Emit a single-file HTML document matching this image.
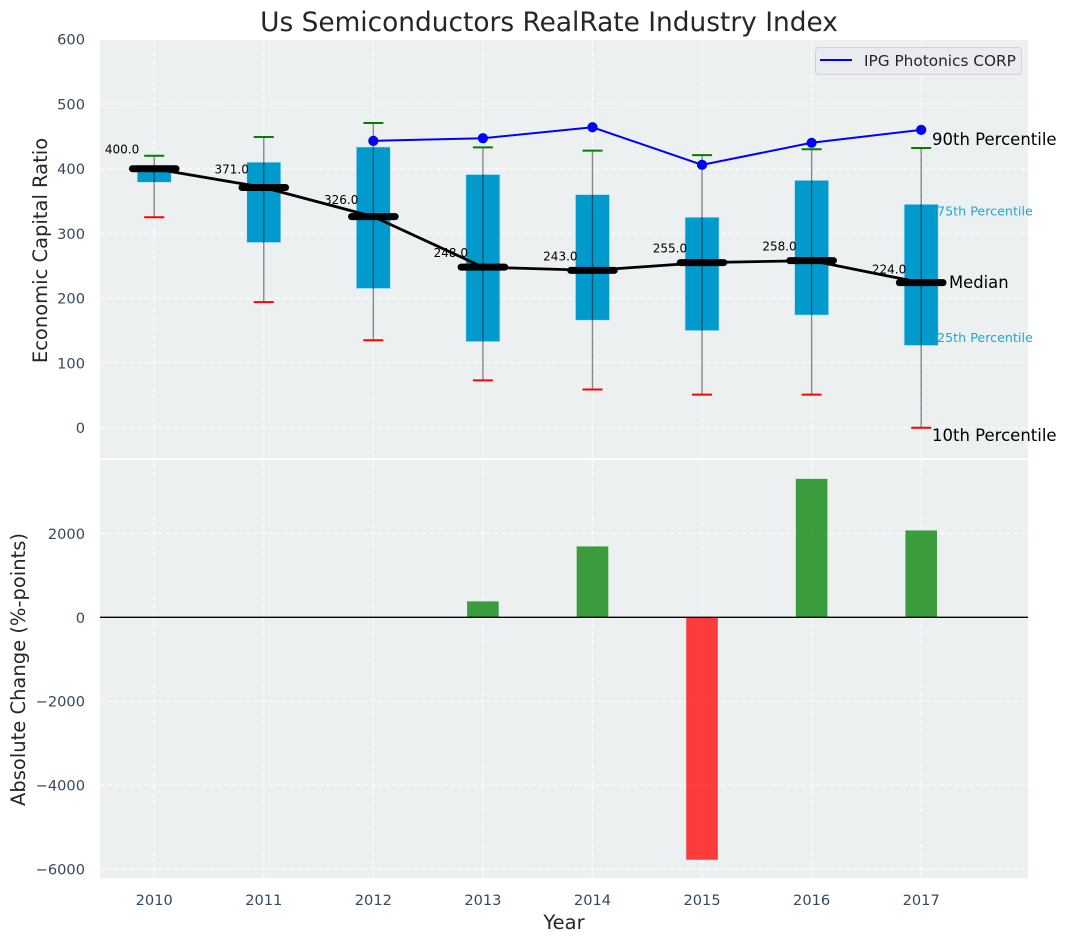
<!DOCTYPE html>
<html>
<head>
<meta charset="utf-8">
<style>
html,body{margin:0;padding:0;background:#fff;}
svg{display:block;font-family:"DejaVu Sans","Liberation Sans",sans-serif;}
</style>
</head>
<body>
<svg id="chart" xmlns="http://www.w3.org/2000/svg" width="1067" height="942" viewBox="0 0 1067 942">
  <rect x="100" y="40" width="928" height="418" fill="#ecf0f1"/>
  <rect x="100" y="460" width="928" height="418" fill="#ecf0f1"/>
  <g id="grid" opacity="0.8"></g>
  <g id="ticks"></g>
  <g id="bars"></g>
  <line x1="100" x2="1028" y1="617.3" y2="617.3" stroke="#000" stroke-width="1.4"/>
  <g id="boxes"></g>
  <g id="marks"></g>
  <text x="549" y="31" text-anchor="middle" font-size="26.4" fill="#262626">Us Semiconductors RealRate Industry Index</text>
  <text transform="translate(47,250.5) rotate(-90)" text-anchor="middle" font-size="19.5" fill="#262626">Economic Capital Ratio</text>
  <text transform="translate(25,669.5) rotate(-90)" text-anchor="middle" font-size="19.5" fill="#262626">Absolute Change (%-points)</text>
  <text x="564" y="929" text-anchor="middle" font-size="19.5" fill="#262626">Year</text>
  <text x="932" y="145" font-size="16.5" fill="#000">90th Percentile</text>
  <text x="937" y="215.5" font-size="12.7" fill="#1fa6d4">75th Percentile</text>
  <text x="949" y="288" font-size="16.4" fill="#000">Median</text>
  <text x="937" y="342" font-size="12.7" fill="#1fa6d4">25th Percentile</text>
  <text x="932" y="441" font-size="16.5" fill="#000">10th Percentile</text>
  <g>
    <rect x="815.5" y="47.5" width="206" height="27" rx="3" fill="#eaebf1" stroke="#d2d3d6" stroke-width="1"/>
    <line x1="820" x2="852" y1="60" y2="60" stroke="#0000ff" stroke-width="2"/>
    <text x="864" y="66" font-size="15.3" fill="#262626">IPG Photonics CORP</text>
  </g>
</svg>
<script>
var years = [2010, 2011, 2012, 2013, 2014, 2015, 2016, 2017];
var p10 = [325, 194, 135, 73, 59, 51, 51, 0];
var p25 = [379, 286, 215, 133, 166, 150, 174, 127];
var medians = [400, 371, 326, 248, 243, 255, 258, 224];
var p75 = [405, 410, 433.5, 391, 360, 325, 382, 345];
var p90 = [420, 449, 470.5, 433, 428, 421, 430, 432];
var companyValues = [null, null, 443, 447, 464, 406, 440, 460];
var changes = [null, null, null, 380, 1690, -5780, 3300, 2070];
var topTicks = [0, 100, 200, 300, 400, 500, 600];
var bottomTicks = [-6000, -4000, -2000, 0, 2000];

var NS = 'http://www.w3.org/2000/svg';
function xPos(year) { return 154.2 + (year - 2010) * 109.57; }
function yTop(v) { return 427.7 - v * 0.6475; }
function yBottom(v) { return 617.3 - v * 0.04195; }
function make(tag, parent, attrs) {
  var el = document.createElementNS(NS, tag);
  for (var k in attrs) { el.setAttribute(k, attrs[k]); }
  document.getElementById(parent).appendChild(el);
  return el;
}
function minus(v) { return String(v).replace('-', '\u2212'); }

var i, el, x;
var DASH = '5.1 2.2';
var GRID_W = 1.2;
var TICK_SIZE = 14.6;

/* grid + tick labels */
years.forEach(function (yr) {
  var gx = xPos(yr);
  var g1 = make('line', 'grid', {x1: gx, x2: gx, y1: 458, y2: 40, stroke: '#fff', 'stroke-width': GRID_W, 'stroke-dasharray': DASH});
  
  
  var g2 = make('line', 'grid', {x1: gx, x2: gx, y1: 878, y2: 460, stroke: '#fff', 'stroke-width': GRID_W, 'stroke-dasharray': DASH});
  
  
  var t = make('text', 'ticks', {x: gx, y: 905, 'text-anchor': 'middle', 'font-size': TICK_SIZE, fill: '#34495e'});
  
  
  t.textContent = yr;
});
topTicks.forEach(function (v) {
  var gy = yTop(v);
  var g = make('line', 'grid', {x1: 100, x2: 1028, y1: gy, y2: gy, stroke: '#fff', 'stroke-width': GRID_W, 'stroke-dasharray': DASH});
  
  
  var t = make('text', 'ticks', {x: 85, y: gy + 5.5, 'text-anchor': 'end', 'font-size': TICK_SIZE, fill: '#34495e'});
  
  
  t.textContent = v;
});
bottomTicks.forEach(function (v) {
  var gy = yBottom(v);
  var g = make('line', 'grid', {x1: 100, x2: 1028, y1: gy, y2: gy, stroke: '#fff', 'stroke-width': GRID_W, 'stroke-dasharray': DASH});
  
  
  var t = make('text', 'ticks', {x: 85, y: gy + 5.5, 'text-anchor': 'end', 'font-size': TICK_SIZE, fill: '#34495e'});
  
  
  t.textContent = minus(v);
});

/* change bars */
for (i = 0; i < years.length; i++) {
  if (changes[i] === null) { continue; }
  x = xPos(years[i]);
  var y0 = yBottom(0), y1 = yBottom(changes[i]);
  el = make('rect', 'bars', {
    x: x - 15.8, width: 31.6,
    y: Math.min(y0, y1), height: Math.abs(y1 - y0),
    fill: changes[i] >= 0 ? '#008000' : '#ff0000', 'fill-opacity': 0.75
  });
  
  
}

/* boxes + whiskers */
for (i = 0; i < years.length; i++) {
  x = xPos(years[i]);
  el = make('rect', 'boxes', {
    x: x - 17, width: 34,
    y: yTop(p75[i]), height: yTop(p25[i]) - yTop(p75[i]),
    fill: '#009acd', stroke: '#b9e3f2', 'stroke-width': 0.6
  });
  
  
  el = make('line', 'boxes', {x1: x, x2: x, y1: yTop(p90[i]), y2: yTop(p10[i]), stroke: '#000', 'stroke-opacity': 0.45, 'stroke-width': 1.4});
  
  
  el = make('line', 'boxes', {x1: x - 10, x2: x + 10, y1: yTop(p90[i]), y2: yTop(p90[i]), stroke: '#008000', 'stroke-width': 2});
  
  
  el = make('line', 'boxes', {x1: x - 10, x2: x + 10, y1: yTop(p10[i]), y2: yTop(p10[i]), stroke: '#ff0000', 'stroke-width': 2});
  
  
}

/* median trend line, median bars, labels */
var medianPts = years.map(function (yr, k) { return xPos(yr) + ',' + yTop(medians[k]); }).join(' ');
el = make('polyline', 'marks', {points: medianPts, fill: 'none', stroke: '#000', 'stroke-width': 2.8});


for (i = 0; i < years.length; i++) {
  x = xPos(years[i]);
  el = make('line', 'marks', {x1: x - 21.8, x2: x + 21.8, y1: yTop(medians[i]), y2: yTop(medians[i]), stroke: '#000', 'stroke-width': 7, 'stroke-linecap': 'round'});
  
  
  el = make('text', 'marks', {x: x - 49.3, y: yTop(medians[i]) - (9.2 + (medians[i] - 224) * 0.034), 'font-size': 12, fill: '#000'});
  
  
  el.textContent = medians[i].toFixed(1);
}

/* company line */
var companyPts = [];
for (i = 0; i < years.length; i++) {
  if (companyValues[i] !== null) { companyPts.push(xPos(years[i]) + ',' + yTop(companyValues[i])); }
}
el = make('polyline', 'marks', {points: companyPts.join(' '), fill: 'none', stroke: '#0000ff', 'stroke-width': 2});


for (i = 0; i < years.length; i++) {
  if (companyValues[i] === null) { continue; }
  el = make('circle', 'marks', {cx: xPos(years[i]), cy: yTop(companyValues[i]), r: 5.1, fill: '#0000ff'});
  
  
}
</script>
</body>
</html>
